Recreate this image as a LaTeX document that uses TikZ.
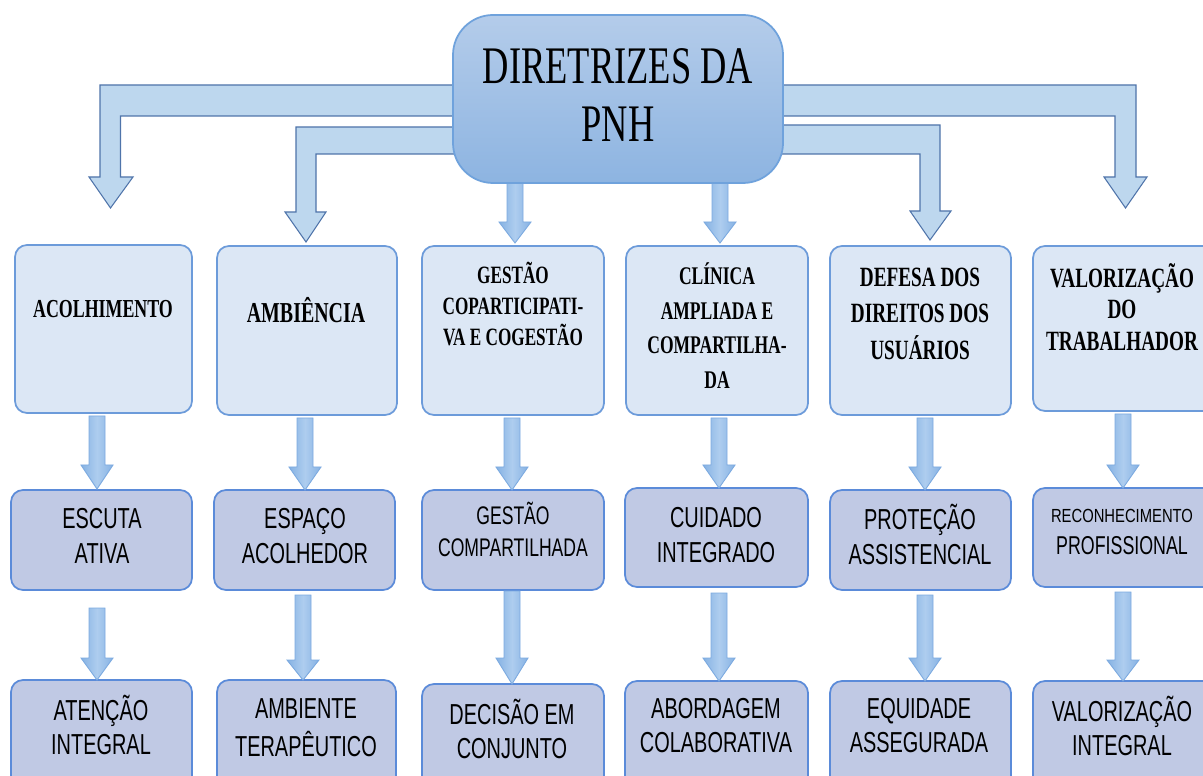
\documentclass[tikz,border=0pt]{standalone}
\usepackage{fontspec}
\setmainfont{Liberation Serif}
\newfontfamily\serifc[FakeStretch=0.69]{Liberation Serif}
\newfontfamily\sansc[FakeStretch=0.69]{Liberation Sans}
\newfontfamily\sansd[FakeStretch=0.78]{Liberation Sans}
\newcommand\fs[2]{\fontsize{#1}{#2}\selectfont}
\definecolor{bigfill}{HTML}{BDD7EE}
\definecolor{bigline}{HTML}{4F74AA}
\definecolor{hdtop}{HTML}{B4CCEA}
\definecolor{hdbot}{HTML}{8DB4E1}
\definecolor{hdline}{HTML}{6FA2DC}
\definecolor{topfill}{HTML}{DCE7F5}
\definecolor{topline}{HTML}{6C9BDA}
\definecolor{subfill}{HTML}{C0C9E4}
\definecolor{subline}{HTML}{5B8BD9}
\definecolor{saedge}{HTML}{86B2E3}
\definecolor{samid}{HTML}{AECDEF}
\definecolor{saline}{HTML}{7CAAE0}
\tikzset{
  bigarrow/.style={fill=bigfill, draw=bigline, line width=0.6pt, line join=miter},
  smallarrow/.style={left color=saedge, right color=saedge, middle color=samid, draw=saline, line width=0.5pt},
  headbox/.style={rectangle, draw=hdline, top color=hdtop, bottom color=hdbot, line width=1pt, rounded corners=0.8cm, inner sep=0pt},
  topbox/.style={rectangle, draw=topline, fill=topfill, line width=1pt, rounded corners=0.24cm, inner sep=0pt},
  subbox/.style={rectangle, draw=subline, fill=subfill, line width=1pt, rounded corners=0.24cm, inner sep=0pt},
  ttext/.style={inner sep=0pt, align=center, text=black},
}
\newcommand\boxnode[6]{\node[#2, minimum width={(#5-#3)*0.02cm}, minimum height={(#6-#4)*0.02cm}] (#1) at ({(#3+#5)/2},{(#4+#6)/2}) {};}
\newcommand\sarrow[4]{\draw[smallarrow] ({#1-8},#2) -- ({#1+8},#2) -- ({#1+8},#3) -- ({#1+16},#3) -- (#1,#4) -- ({#1-16},#3) -- ({#1-8},#3) -- cycle;}
\begin{document}
\begin{tikzpicture}[x=0.02cm,y=-0.02cm]
\useasboundingbox (0,0) rectangle (1203,776);
\clip (0,0) rectangle (1203,776);
\fill[white] (0,0) rectangle (1203,776);

% big outline arrows from the title
\draw[bigarrow] (470,85) -- (100,85) -- (100,177) -- (89,177) -- (110.5,208) -- (133,177) -- (120.5,177) -- (120.5,116) -- (470,116) -- cycle;
\draw[bigarrow] (470,127) -- (296,127) -- (296,212) -- (285,212) -- (306,242) -- (326,212) -- (316,212) -- (316,154) -- (470,154) -- cycle;
\draw[bigarrow] (770,85) -- (1136,85) -- (1136,177) -- (1147,177) -- (1125.5,208) -- (1104,177) -- (1115,177) -- (1115,116) -- (770,116) -- cycle;
\draw[bigarrow] (770,125) -- (940,125) -- (940,211) -- (951,211) -- (930,240) -- (910,211) -- (920,211) -- (920,154) -- (770,154) -- cycle;

% small arrows from the title
\sarrow{515}{175}{222}{243}
\sarrow{720}{175}{222}{243}

% title
\boxnode{head}{headbox}{453}{15}{783}{183}
\node[ttext, font=\serifc\fs{30.05}{32.9}] (title) at (618,101) {\strut DIRETRIZES DA\\\strut PNH};

% row 1
\boxnode{a1}{topbox}{15}{245}{192}{413}
\boxnode{a2}{topbox}{217}{246}{397}{415}
\boxnode{a3}{topbox}{422}{246}{604}{415}
\boxnode{a4}{topbox}{626}{246}{808}{415}
\boxnode{a5}{topbox}{830}{246}{1011}{415}
\boxnode{a6}{topbox}{1033}{246}{1215}{411}
\node[ttext, font=\serifc\bfseries\fs{14.74}{17.6}] (ta1) at (103,311.5) {\strut ACOLHIMENTO};
\node[ttext, font=\serifc\bfseries\fs{16.44}{19.8}] (ta2) at (306,315.6) {\strut AMBIÊNCIA};
\node[ttext, font=\serifc\bfseries\fs{14.17}{17.6}] (ta3) at (513,308) {\strut GESTÃO\\\strut COPARTICIPATI-\\\strut VA E COGESTÃO};
\node[ttext, font=\serifc\bfseries\fs{14.46}{19.7}] (ta4) at (717,329.5) {\strut CLÍNICA\\\strut AMPLIADA E\\\strut COMPARTILHA-\\\strut DA};
\node[ttext, font=\serifc\bfseries\fs{15.87}{20.7}] (ta5) at (920,315.5) {\strut DEFESA DOS\\\strut DIREITOS DOS\\\strut USUÁRIOS};
\node[ttext, font=\serifc\bfseries\fs{15.87}{17.9}] (ta6) at (1122,311.5) {\strut VALORIZAÇÃO\\\strut DO\\\strut TRABALHADOR};

% row 2
\boxnode{b1}{subbox}{11}{490}{192}{590}
\boxnode{b2}{subbox}{214}{490}{395}{590}
\boxnode{b3}{subbox}{422}{490}{604}{590}
\boxnode{b4}{subbox}{625}{488}{808}{587}
\boxnode{b5}{subbox}{830}{490}{1011}{590}
\boxnode{b6}{subbox}{1033}{488}{1215}{587}
\node[ttext, font=\sansc\fs{16.44}{19.84}] (tb1) at (102,539) {\strut ESCUTA\\\strut ATIVA};
\node[ttext, font=\sansc\fs{16.44}{19.84}] (tb2) at (305,539) {\strut ESPAÇO\\\strut ACOLHEDOR};
\node[ttext, font=\sansc\fs{14.5}{18.4}] (tb3) at (513,534) {\strut GESTÃO\\\strut COMPARTILHADA};
\node[ttext, font=\sansc\fs{16.44}{19.84}] (tb4) at (716,538) {\strut CUIDADO\\\strut INTEGRADO};
\node[ttext, font=\sansc\fs{16.44}{19.84}] (tb5) at (920,539.5) {\strut PROTEÇÃO\\\strut ASSISTENCIAL};
\node[ttext, font=\sansc\fs{14.7}{18.1}] (tb6) at (1122,532) {\strut{\sansd\fontsize{10.8}{18.1}\selectfont RECONHECIMENTO}\\\strut PROFISSIONAL};

% row 3
\boxnode{c1}{subbox}{11}{680}{192}{800}
\boxnode{c2}{subbox}{217}{680}{396}{800}
\boxnode{c3}{subbox}{422}{684}{604}{800}
\boxnode{c4}{subbox}{625}{681}{808}{800}
\boxnode{c5}{subbox}{830}{681}{1011}{800}
\boxnode{c6}{subbox}{1033}{681}{1215}{800}
\node[ttext, font=\sansc\fs{16.44}{19.84}] (tc1) at (101,730) {\strut ATENÇÃO\\\strut INTEGRAL};
\node[ttext, font=\sansc\fs{16.44}{19.84}] (tc2) at (306,730.5) {\strut AMBIENTE\\\strut TERAPÊUTICO};
\node[ttext, font=\sansc\fs{16.44}{19.84}] (tc3) at (512,734) {\strut DECISÃO EM\\\strut CONJUNTO};
\node[ttext, font=\sansc\fs{16.44}{19.84}] (tc4) at (716,728.5) {\strut ABORDAGEM\\\strut COLABORATIVA};
\node[ttext, font=\sansc\fs{16.44}{19.84}] (tc5) at (919,728.5) {\strut EQUIDADE\\\strut ASSEGURADA};
\node[ttext, font=\sansc\fs{16.44}{19.84}] (tc6) at (1122,731) {\strut VALORIZAÇÃO\\\strut INTEGRAL};

% small arrows row 1 -> row 2
\sarrow{97}{416}{465}{489}
\sarrow{305}{418}{467}{490}
\sarrow{512}{418}{467}{490}
\sarrow{719}{418}{465}{488}
\sarrow{925}{418}{467}{490}
\sarrow{1123}{414}{465}{488}

% small arrows row 2 -> row 3
\sarrow{97}{608}{658}{680}
\sarrow{303}{595}{660}{680}
\sarrow{512}{591}{658}{684}
\sarrow{719}{593}{658}{681}
\sarrow{925}{595}{658}{681}
\sarrow{1123}{592}{660}{681}
\end{tikzpicture}
\end{document}
